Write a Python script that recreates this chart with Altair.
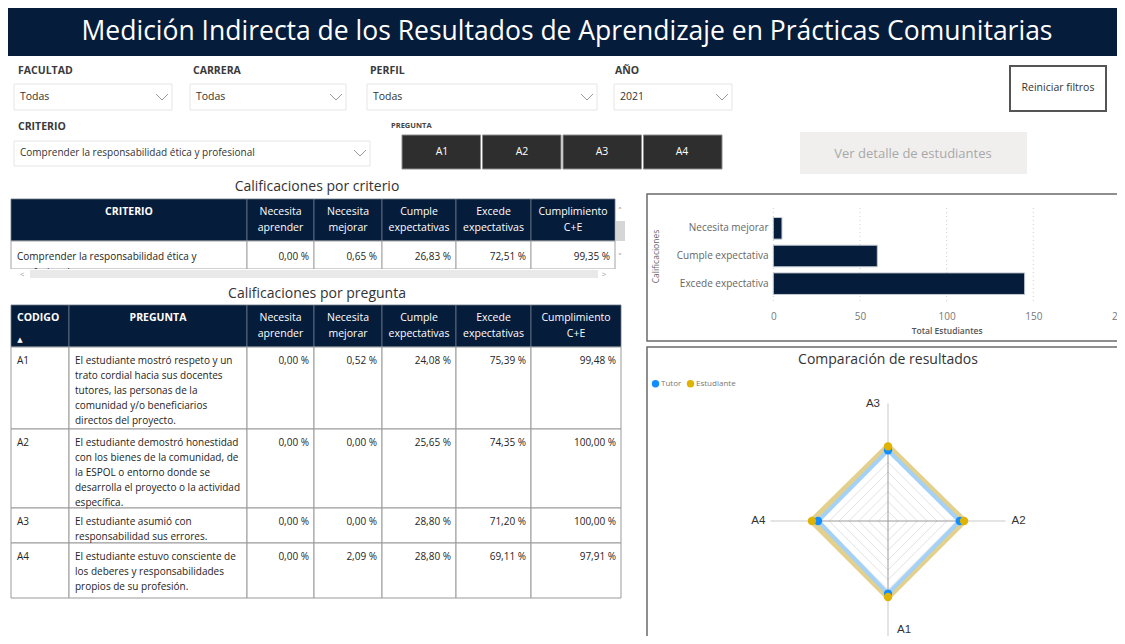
import math
import altair as alt
import pandas as pd

# ------------------------------------------------------------------ data
title_text = "Medición Indirecta de los Resultados de Aprendizaje en Prácticas Comunitarias"
filter_labels = ["FACULTAD", "CARRERA", "PERFIL", "AÑO"]
filter_values = ["Todas", "Todas", "Todas", "2021"]
criterio_label = "CRITERIO"
criterio_value = "Comprender la responsabilidad ética y profesional"
pregunta_label = "PREGUNTA"
buttons = ["A1", "A2", "A3", "A4"]
reset_text = "Reiniciar filtros"
detail_text = "Ver detalle de estudiantes"

table1_title = "Calificaciones por criterio"
table2_title = "Calificaciones por pregunta"
grade_headers = ["Necesita\naprender", "Necesita\nmejorar", "Cumple\nexpectativas",
                 "Excede\nexpectativas", "Cumplimiento\nC+E"]

crit_names = ["Comprender la responsabilidad ética y\nprofesional"]
crit_na = [0.00]
crit_nm = [0.65]
crit_ce = [26.83]
crit_ee = [72.51]
crit_cum = [99.35]

q_codes = ["A1", "A2", "A3", "A4"]
q_texts = [
    "El estudiante mostró respeto y un\ntrato cordial hacia sus docentes\ntutores, las personas de la\ncomunidad y/o beneficiarios\ndirectos del proyecto.",
    "El estudiante demostró honestidad\ncon los bienes de la comunidad, de\nla ESPOL o entorno donde se\ndesarrolla el proyecto o la actividad\nespecífica.",
    "El estudiante asumió con\nresponsabilidad sus errores.",
    "El estudiante estuvo consciente de\nlos deberes y responsabilidades\npropios de su profesión.",
]
q_na = [0.00, 0.00, 0.00, 0.00]
q_nm = [0.52, 0.00, 0.00, 2.09]
q_ce = [24.08, 25.65, 28.80, 28.80]
q_ee = [75.39, 74.35, 71.20, 69.11]
q_cum = [99.48, 100.00, 100.00, 97.91]

bar_title_y = "Calificaciones"
bar_title_x = "Total Estudiantes"
bar_cats = ["Necesita mejorar", "Cumple expectativa", "Excede expectativa"]
bar_vals = [5, 60, 145]
bar_ticks = [0, 50, 100, 150, 200]

radar_title = "Comparación de resultados"
radar_axes = ["A1", "A2", "A3", "A4"]
series_names = ["Tutor", "Estudiante"]
tutor_vals = [3.71, 3.66, 3.61, 3.57]
est_vals = [3.88, 3.88, 3.81, 3.88]
radar_levels = [0.5, 1.0, 1.5, 2.0, 2.5, 3.0, 3.5]
radar_axis_len = 6.0

# ------------------------------------------------------------------ style
FONT = "Open Sans"
NAVY = "#061c3b"
W, H = 1109, 628
OX, OY = 8, 8
ONE = alt.Data(values=[{"k": 1}])


def px(X):
    return X - OX


def py(Y):
    return Y - OY


def box(x1, y1, x2, y2, fill="white", stroke=None, sw=1.0):
    kw = dict(fill=fill)
    if stroke:
        kw.update(stroke=stroke, strokeWidth=sw)
    else:
        kw.update(strokeWidth=0)
    return alt.Chart(ONE).mark_rect(**kw).encode(
        x=alt.value(px(x1)), x2=alt.value(px(x2)),
        y=alt.value(py(y1)), y2=alt.value(py(y2)))


def label(X, Y, text, size=11, color="#333333", weight="normal", align="left",
          baseline="middle", font=FONT, angle=None):
    kw = dict(fontSize=size, color=color, fontWeight=weight, align=align,
              baseline=baseline, font=font)
    if angle is not None:
        kw["angle"] = angle
    return alt.Chart(ONE).mark_text(**kw).encode(
        x=alt.value(px(X)), y=alt.value(py(Y)), text=alt.value(text))


def seg(x1, y1, x2, y2, color="#8a8a8a", sw=1.0):
    return alt.Chart(ONE).mark_rule(color=color, strokeWidth=sw).encode(
        x=alt.value(px(x1)), y=alt.value(py(y1)),
        x2=alt.value(px(x2)), y2=alt.value(py(y2)))


def chevron(cx, cy, w=6, h=3, color="#9a9a9a"):
    return [seg(cx - w, cy - h, cx, cy + h, color), seg(cx, cy + h, cx + w, cy - h, color)]


def fmt(v):
    return f"{v:.2f}".replace(".", ",") + " %"


layers = []

# ------------------------------------------------------------------ header bar
layers.append(box(8, 8, 1117, 56, fill=NAVY))
layers.append(label(567, 32, title_text, size=26.5, color="white", align="center"))

# ------------------------------------------------------------------ filters
f_label_x = [18, 193, 370, 615]
f_box_x = [(14, 172), (190, 346), (367, 597), (614, 732)]
for i in range(4):
    x1, x2 = f_box_x[i]
    layers.append(label(f_label_x[i], 71, filter_labels[i], size=10.5, weight="bold", color="#3a3a3a"))
    layers.append(box(x1, 84, x2, 110, fill="white", stroke="#e6e6e6"))
    layers.append(label(x1 + 6, 97, filter_values[i], size=10.5, color="#333333"))
    layers += chevron(x2 - 10, 97)

layers.append(label(18, 127, criterio_label, size=10.5, weight="bold", color="#3a3a3a"))
layers.append(box(14, 141, 370, 166, fill="white", stroke="#e6e6e6"))
layers.append(label(20, 153, criterio_value, size=10, color="#333333"))
layers += chevron(360, 153)

layers.append(label(391, 126, pregunta_label, size=7.5, weight="bold", color="#444444"))
btn_df = pd.DataFrame({"b": buttons})
BTN = alt.Scale(domain=buttons, range=[px(402), px(722)], paddingInner=0.025, paddingOuter=0)
layers.append(alt.Chart(btn_df).mark_rect(fill="#2e2e2e", stroke="#8c8c8c", strokeWidth=1).encode(
    x=alt.X("b:N", scale=BTN, axis=None), y=alt.value(py(135)), y2=alt.value(py(169))))
layers.append(alt.Chart(btn_df).mark_text(color="white", fontSize=10.5, font=FONT, baseline="middle").encode(
    x=alt.X("b:N", scale=BTN, axis=None), y=alt.value(py(152)), text="b:N"))

layers.append(box(1010, 66, 1106, 111, fill="white", stroke="#555555", sw=2))
layers.append(label(1058, 88, reset_text, size=10.5, align="center", color="#333333"))
layers.append(box(800, 132, 1027, 174, fill="#f0efee"))
layers.append(label(913, 154, detail_text, size=13, align="center", color="#a8a8a8"))

# ------------------------------------------------------------------ table 1
layers.append(label(317, 187, table1_title, size=14, align="center", color="#333333"))
T1X = alt.Scale(domain=[0, 1, 2, 3, 4, 5, 6],
                range=[px(v) for v in [11, 247, 314, 382, 456, 531, 615]], zero=False, nice=False)
T1Y = alt.Scale(domain=[-1, 0, 1], range=[py(199), py(241), py(269)], zero=False, nice=False)

t1h = pd.DataFrame({"c": list(range(6)), "h": ["CRITERIO"] + grade_headers})
t1h["c2"] = t1h.c + 1
t1h["m"] = t1h.c + 0.5
t1h["r"] = -1
t1h["r2"] = 0
layers.append(alt.Chart(t1h).mark_rect(fill=NAVY, stroke="#6a7689", strokeWidth=0.8).encode(
    x=alt.X("c:Q", scale=T1X, axis=None), x2="c2:Q",
    y=alt.Y("r:Q", scale=T1Y, axis=None), y2="r2:Q"))
layers.append(alt.Chart(t1h).transform_filter("datum.c == 0").mark_text(
    color="white", fontSize=10.5, font=FONT, fontWeight="bold", baseline="top", dy=8).encode(
    x=alt.X("m:Q", scale=T1X, axis=None), y=alt.Y("r:Q", scale=T1Y, axis=None), text="h:N"))
layers.append(alt.Chart(t1h).transform_filter("datum.c > 0").mark_text(
    color="white", fontSize=10.5, font=FONT, baseline="top", dy=8, lineBreak="\n", lineHeight=16).encode(
    x=alt.X("m:Q", scale=T1X, axis=None), y=alt.Y("r:Q", scale=T1Y, axis=None), text="h:N"))

t1_vals = [crit_na[0], crit_nm[0], crit_ce[0], crit_ee[0], crit_cum[0]]
t1c = pd.DataFrame({"c": list(range(6))})
t1c["c2"] = t1c.c + 1
t1c["r"] = 0
t1c["r2"] = 1
t1c["t"] = [crit_names[0]] + [fmt(v) for v in t1_vals]
layers.append(alt.Chart(t1c).mark_rect(fill="white", stroke="#a3a3a3", strokeWidth=1).encode(
    x=alt.X("c:Q", scale=T1X, axis=None), x2="c2:Q",
    y=alt.Y("r:Q", scale=T1Y, axis=None), y2="r2:Q"))
layers.append(alt.Chart(t1c).transform_filter("datum.c == 0").mark_text(
    color="#252423", fontSize=10, font=FONT, baseline="top", align="left", dx=6, dy=11,
    lineBreak="\n", lineHeight=16).encode(
    x=alt.X("c:Q", scale=T1X, axis=None), y=alt.Y("r:Q", scale=T1Y, axis=None), text="t:N"))
layers.append(alt.Chart(t1c).transform_filter("datum.c > 0").mark_text(
    color="#252423", fontSize=10, font=FONT, baseline="top", align="right", dx=-5, dy=11).encode(
    x=alt.X("c2:Q", scale=T1X, axis=None), y=alt.Y("r:Q", scale=T1Y, axis=None), text="t:N"))
# scroll bars of table 1
layers.append(box(11, 269, 626, 281, fill="white"))
layers.append(box(30, 270, 598, 278, fill="#e9e9e9"))
layers.append(label(22, 275, "<", size=8, color="#9a9a9a", align="center"))
layers.append(label(604, 275, ">", size=8, color="#9a9a9a", align="center"))
layers.append(box(616, 221, 625, 241, fill="#d6d6d6"))
layers.append(label(620, 211, "˄", size=9, color="#9a9a9a", align="center", font="DejaVu Sans"))
layers.append(label(620, 257, "˅", size=9, color="#9a9a9a", align="center", font="DejaVu Sans"))

# ------------------------------------------------------------------ table 2
layers.append(label(317, 294, table2_title, size=14, align="center", color="#333333"))
T2X = alt.Scale(domain=[0, 1, 2, 3, 4, 5, 6, 7],
                range=[px(v) for v in [11, 69, 247, 314, 382, 456, 531, 621]], zero=False, nice=False)
T2Y = alt.Scale(domain=[-1, 0, 1, 2, 3, 4],
                range=[py(v) for v in [305, 347, 429, 508, 543, 598]], zero=False, nice=False)

t2h = pd.DataFrame({"c": list(range(7)), "h": ["CODIGO", "PREGUNTA"] + grade_headers})
t2h["c2"] = t2h.c + 1
t2h["m"] = t2h.c + 0.5
t2h["r"] = -1
t2h["r2"] = 0
layers.append(alt.Chart(t2h).mark_rect(fill=NAVY, stroke="#6a7689", strokeWidth=0.8).encode(
    x=alt.X("c:Q", scale=T2X, axis=None), x2="c2:Q",
    y=alt.Y("r:Q", scale=T2Y, axis=None), y2="r2:Q"))
layers.append(alt.Chart(t2h).transform_filter("datum.c == 0").mark_text(
    color="white", fontSize=10.5, font=FONT, fontWeight="bold", baseline="top", align="left", dx=6, dy=8).encode(
    x=alt.X("c:Q", scale=T2X, axis=None), y=alt.Y("r:Q", scale=T2Y, axis=None), text="h:N"))
layers.append(alt.Chart(t2h).transform_filter("datum.c == 1").mark_text(
    color="white", fontSize=10.5, font=FONT, fontWeight="bold", baseline="top", dy=8).encode(
    x=alt.X("m:Q", scale=T2X, axis=None), y=alt.Y("r:Q", scale=T2Y, axis=None), text="h:N"))
layers.append(alt.Chart(t2h).transform_filter("datum.c > 1").mark_text(
    color="white", fontSize=10.5, font=FONT, baseline="top", dy=8, lineBreak="\n", lineHeight=16).encode(
    x=alt.X("m:Q", scale=T2X, axis=None), y=alt.Y("r:Q", scale=T2Y, axis=None), text="h:N"))
layers.append(label(20, 340, "▲", size=7, color="white", align="center", font="DejaVu Sans"))

rows = []
for r in range(4):
    vals = [q_na[r], q_nm[r], q_ce[r], q_ee[r], q_cum[r]]
    texts = [q_codes[r], q_texts[r]] + [fmt(v) for v in vals]
    for c in range(7):
        rows.append({"r": r, "r2": r + 1, "c": c, "c2": c + 1, "t": texts[c]})
t2c = pd.DataFrame(rows)
layers.append(alt.Chart(t2c).mark_rect(fill="white", stroke="#9a9a9a", strokeWidth=1).encode(
    x=alt.X("c:Q", scale=T2X, axis=None), x2="c2:Q",
    y=alt.Y("r:Q", scale=T2Y, axis=None), y2="r2:Q"))
layers.append(alt.Chart(t2c).transform_filter("datum.c <= 1").mark_text(
    color="#252423", fontSize=10, font=FONT, baseline="top", align="left", dx=6, dy=9,
    lineBreak="\n", lineHeight=15).encode(
    x=alt.X("c:Q", scale=T2X, axis=None), y=alt.Y("r:Q", scale=T2Y, axis=None), text="t:N"))
layers.append(alt.Chart(t2c).transform_filter("datum.c > 1").mark_text(
    color="#252423", fontSize=10, font=FONT, baseline="top", align="right", dx=-5, dy=9).encode(
    x=alt.X("c2:Q", scale=T2X, axis=None), y=alt.Y("r:Q", scale=T2Y, axis=None), text="t:N"))

# ------------------------------------------------------------------ bar chart panel
layers.append(box(647, 194, 1135, 341, fill="white", stroke="#6b6b6b", sw=1.5))
BARX = alt.Scale(domain=[0, 200], range=[px(773.3), px(1120)], zero=False, nice=False)
BARY = alt.Scale(domain=bar_cats, range=[py(214.5), py(297.5)], paddingInner=0.22, paddingOuter=0.11)
tick_df = pd.DataFrame({"t": bar_ticks})
layers.append(alt.Chart(tick_df).mark_rule(color="#cfcfcf", strokeDash=[1, 3], strokeWidth=1).encode(
    x=alt.X("t:Q", scale=BARX, axis=None), y=alt.value(py(208)), y2=alt.value(py(302))))
bar_df = pd.DataFrame({"c": bar_cats, "v": bar_vals})
layers.append(alt.Chart(bar_df).mark_bar(color=NAVY, stroke="#c3c8d0", strokeWidth=1).encode(
    x=alt.X("v:Q", scale=BARX,
            axis=alt.Axis(orient="bottom", offset=py(302) - H, values=bar_ticks, domain=False,
                          ticks=False, grid=False, labelFontSize=10, labelColor="#777777",
                          labelPadding=9, labelFlush=False, title=bar_title_x, titleFontSize=8.5,
                          titleColor="#555555", titleFontWeight=600, titlePadding=5, zindex=2)),
    y=alt.Y("c:N", scale=BARY, sort=None,
            axis=alt.Axis(orient="left", offset=-px(772), domain=False, ticks=False, grid=False,
                          labelFontSize=10, labelColor="#666666", labelPadding=4,
                          title=bar_title_y, titleFontSize=8.5, titleColor="#666666",
                          titleFontWeight="normal", titlePadding=16, zindex=2))))

# ------------------------------------------------------------------ radar panel
layers.append(box(647, 347, 1135, 660, fill="white", stroke="#6b6b6b", sw=1.5))
layers.append(label(888, 360, radar_title, size=14, align="center", color="#333333"))
CX, CY, U = px(888), py(521), 19.6
RADX = alt.Scale(domain=[-6.5, 6.5], range=[CX - 6.5 * U, CX + 6.5 * U], zero=False, nice=False)
RADY = alt.Scale(domain=[-6.5, 6.5], range=[CY + 6.5 * U, CY - 6.5 * U], zero=False, nice=False)


def ang(i):
    return math.radians(-90 + 90 * i)


ring_rows = []
for lv in radar_levels:
    for k in range(5):
        a = ang(k % 4)
        ring_rows.append({"lv": lv, "k": k, "x": lv * math.cos(a), "y": lv * math.sin(a)})
ring_df = pd.DataFrame(ring_rows)
layers.append(alt.Chart(ring_df).mark_line(color="#e2e2e2", strokeWidth=1).encode(
    x=alt.X("x:Q", scale=RADX, axis=None), y=alt.Y("y:Q", scale=RADY, axis=None),
    detail="lv:N", order="k:Q"))

ax_rows = []
for i, name in enumerate(radar_axes):
    a = ang(i)
    ax_rows.append({"name": name, "seg": "in", "x": 0.0, "y": 0.0,
                    "x2": radar_levels[-1] * math.cos(a), "y2": radar_levels[-1] * math.sin(a)})
    ax_rows.append({"name": name, "seg": "out", "x": radar_levels[-1] * math.cos(a),
                    "y": radar_levels[-1] * math.sin(a),
                    "x2": radar_axis_len * math.cos(a), "y2": radar_axis_len * math.sin(a)})
ax_df = pd.DataFrame(ax_rows)
layers.append(alt.Chart(ax_df).transform_filter("datum.seg == 'out'").mark_rule(
    color="#c9c9c9", strokeWidth=1).encode(
    x=alt.X("x:Q", scale=RADX, axis=None), y=alt.Y("y:Q", scale=RADY, axis=None), x2="x2:Q", y2="y2:Q"))
layers.append(alt.Chart(ax_df).transform_filter("datum.seg == 'in'").mark_rule(
    color="#9a9a9a", strokeWidth=1).encode(
    x=alt.X("x:Q", scale=RADX, axis=None), y=alt.Y("y:Q", scale=RADY, axis=None), x2="x2:Q", y2="y2:Q"))

poly_rows = []
for s, vals in zip(series_names, [tutor_vals, est_vals]):
    for k in range(5):
        i = k % 4
        a = ang(i)
        poly_rows.append({"s": s, "k": k, "q": radar_axes[i],
                          "x": vals[i] * math.cos(a), "y": vals[i] * math.sin(a)})
poly_df = pd.DataFrame(poly_rows)
layers.append(alt.Chart(poly_df).transform_filter("datum.s == 'Estudiante'").mark_line(
    color="#e3d08c", strokeWidth=6).encode(
    x=alt.X("x:Q", scale=RADX, axis=None), y=alt.Y("y:Q", scale=RADY, axis=None), order="k:Q"))
layers.append(alt.Chart(poly_df).transform_filter("datum.s == 'Tutor'").mark_line(
    color="#a3d1f7", strokeWidth=4).encode(
    x=alt.X("x:Q", scale=RADX, axis=None), y=alt.Y("y:Q", scale=RADY, axis=None), order="k:Q"))
layers.append(alt.Chart(poly_df).transform_filter("datum.k < 4").mark_circle(size=70, opacity=1).encode(
    x=alt.X("x:Q", scale=RADX, axis=None), y=alt.Y("y:Q", scale=RADY, axis=None),
    color=alt.Color("s:N", scale=alt.Scale(domain=series_names, range=["#118dff", "#dfb300"]),
                    legend=alt.Legend(orient="none", legendX=px(651), legendY=py(379),
                                      direction="horizontal", title=None, labelFontSize=8,
                                      labelColor="#777777", symbolSize=55, symbolType="circle",
                                      columnPadding=4, labelOffset=1, padding=0))))

lab_df = pd.DataFrame({"q": radar_axes,
                       "x": [radar_axis_len * math.cos(ang(i)) for i in range(4)],
                       "y": [radar_axis_len * math.sin(ang(i)) for i in range(4)]})
lab_style = {"A1": dict(align="left", dx=9, dy=-9), "A2": dict(align="left", dx=6, dy=0),
             "A3": dict(align="right", dx=-8, dy=1), "A4": dict(align="right", dx=-5, dy=0)}
for q in radar_axes:
    layers.append(alt.Chart(lab_df).transform_filter(f"datum.q == '{q}'").mark_text(
        fontSize=11.5, font="Liberation Sans", color="#333333", baseline="middle", **lab_style[q]).encode(
        x=alt.X("x:Q", scale=RADX, axis=None), y=alt.Y("y:Q", scale=RADY, axis=None), text="q:N"))

# ------------------------------------------------------------------ compose
chart = alt.layer(*layers).resolve_scale(
    x="independent", y="independent", color="independent"
).properties(
    width=W, height=H, padding=0, background="white",
    autosize=alt.AutoSizeParams(type="none")
).configure_view(stroke=None).configure_axis(
    labelFont=FONT, titleFont=FONT
).configure_legend(labelFont=FONT)

chart.save("out.html", embed_options={"renderer": "svg", "actions": False})
